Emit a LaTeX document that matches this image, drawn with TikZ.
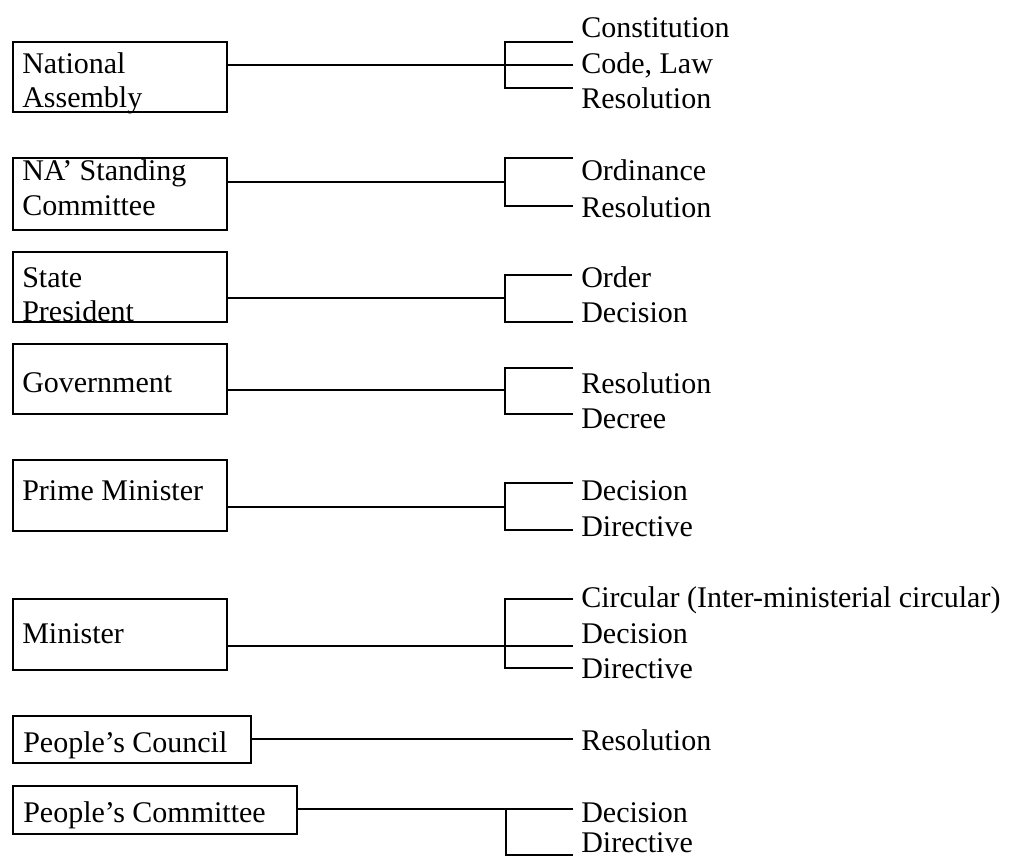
\documentclass[tikz,border=0pt]{standalone}
\usepackage{fontspec}
\setmainfont{Liberation Serif}
\usetikzlibrary{fit}
\begin{document}
\begin{tikzpicture}[x=0.75pt,y=-0.75pt,
  box/.style={draw, line width=0.9pt, inner sep=0pt, rectangle},
  txt/.style={anchor=base west, inner sep=0pt, font=\fontsize{22.5pt}{25.5pt}\selectfont},
  wire/.style={line width=0.9pt}]
\useasboundingbox (0,0) rectangle (1024,858);

% ---------- issuing bodies ----------
\node[box, fit={(13,42) (227,112)}] (na) {};
\node[txt] (naA) at (22,73) {National};
\node[txt] (naB) at (22,107) {Assembly};

\node[box, fit={(13,158) (227,230)}] (sc) {};
\node[txt] (scA) at (22,180) {NA’ Standing};
\node[txt] (scB) at (22,215) {Committee};

\node[box, fit={(13,252) (227,322)}] (sp) {};
\node[txt] (spA) at (22,287) {State};
\node[txt] (spB) at (22,321) {President};

\node[box, fit={(13,344) (227,414)}] (gov) {};
\node[txt] (govA) at (22,392) {Government};

\node[box, fit={(13,460) (227,531)}] (pm) {};
\node[txt] (pmA) at (22,500) {Prime Minister};

\node[box, fit={(13,599) (227,670)}] (mi) {};
\node[txt] (miA) at (22,643) {Minister};

\node[box, fit={(13,716) (251,763)}] (pc) {};
\node[txt] (pcA) at (23,752) {People’s Council};

\node[box, fit={(13,786) (297,834)}] (pk) {};
\node[txt] (pkA) at (23,822) {People’s Committee};

% ---------- legal documents ----------
\node[txt] (d1a) at (581,37) {Constitution};
\node[txt] (d1b) at (581,73) {Code, Law};
\node[txt] (d1c) at (581,108) {Resolution};

\node[txt] (d2a) at (581,180) {Ordinance};
\node[txt] (d2b) at (581,217) {Resolution};

\node[txt] (d3a) at (581,287) {Order};
\node[txt] (d3b) at (581,322) {Decision};

\node[txt] (d4a) at (581,393) {Resolution};
\node[txt] (d4b) at (581,428) {Decree};

\node[txt] (d5a) at (581,500) {Decision};
\node[txt] (d5b) at (581,536) {Directive};

\node[txt] (d6a) at (581,607) {Circular (Inter-ministerial circular)};
\node[txt] (d6b) at (581,643) {Decision};
\node[txt] (d6c) at (581,678) {Directive};

\node[txt] (d7a) at (581,750) {Resolution};

\node[txt] (d8a) at (581,822) {Decision};
\node[txt] (d8b) at (581,852) {Directive};

% ---------- bracket junctions and arm ends ----------
\coordinate (j1) at (505,65);  \coordinate (j1t) at (505,42);  \coordinate (j1b) at (505,88);
\coordinate (e1t) at (573,42); \coordinate (e1m) at (573,65); \coordinate (e1b) at (573,88);

\coordinate (j2) at (505,182); \coordinate (j2t) at (505,158); \coordinate (j2b) at (505,206);
\coordinate (e2t) at (573,158); \coordinate (e2b) at (573,206);

\coordinate (j3) at (505,298); \coordinate (j3t) at (505,275); \coordinate (j3b) at (505,322);
\coordinate (e3t) at (572,275); \coordinate (e3b) at (573,322);

\coordinate (j4) at (505,390); \coordinate (j4t) at (505,368); \coordinate (j4b) at (505,414);
\coordinate (e4t) at (573,368); \coordinate (e4b) at (573,414);

\coordinate (j5) at (505,507); \coordinate (j5t) at (505,483); \coordinate (j5b) at (505,530);
\coordinate (e5t) at (573,483); \coordinate (e5b) at (573,530);

\coordinate (j6) at (505,646); \coordinate (j6t) at (505,599); \coordinate (j6b) at (505,668);
\coordinate (e6t) at (573,599); \coordinate (e6m) at (573,646); \coordinate (e6b) at (573,668);

\coordinate (e7) at (573,739);

\coordinate (j8) at (506,809); \coordinate (j8b) at (506,855);
\coordinate (e8t) at (573,809); \coordinate (e8b) at (573,855);

% ---------- connectors ----------
\draw[wire] (na.east |- j1) -- (j1) -- (e1m);
\draw[wire] (e1t) -- (j1t) -- (j1b) -- (e1b);

\draw[wire] (sc.east |- j2) -- (j2);
\draw[wire] (e2t) -- (j2t) -- (j2b) -- (e2b);

\draw[wire] (sp.east |- j3) -- (j3);
\draw[wire] (e3t) -- (j3t) -- (j3b) -- (e3b);

\draw[wire] (gov.east |- j4) -- (j4);
\draw[wire] (e4t) -- (j4t) -- (j4b) -- (e4b);

\draw[wire] (pm.east |- j5) -- (j5);
\draw[wire] (e5t) -- (j5t) -- (j5b) -- (e5b);

\draw[wire] (mi.east |- j6) -- (j6) -- (e6m);
\draw[wire] (e6t) -- (j6t) -- (j6b) -- (e6b);

\draw[wire] (pc.east |- e7) -- (e7);

\draw[wire] (pk.east |- e8t) -- (e8t);
\draw[wire] (j8) -- (j8b) -- (e8b);
\end{tikzpicture}
\end{document}
